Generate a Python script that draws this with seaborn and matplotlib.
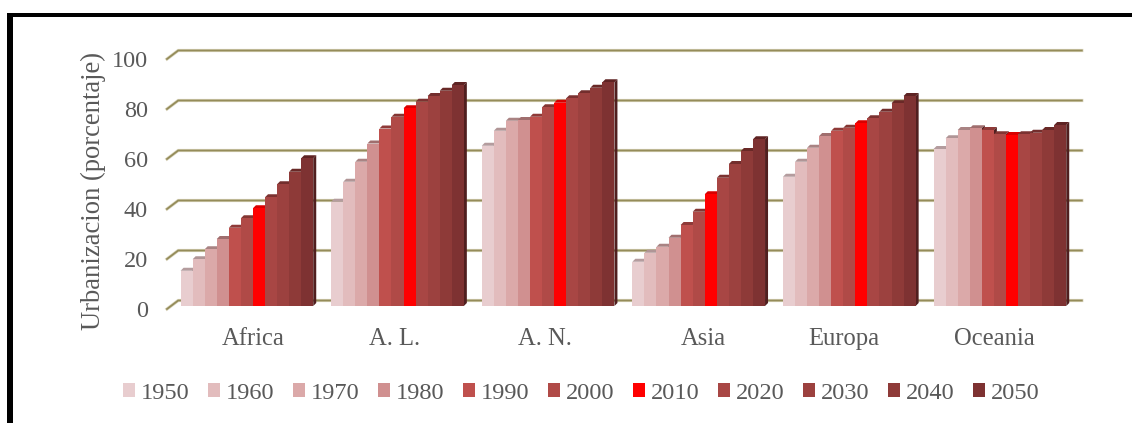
import matplotlib
matplotlib.use("Agg")
import matplotlib.pyplot as plt
from matplotlib.patches import Polygon, Rectangle
from matplotlib.transforms import ScaledTranslation
import pandas as pd
import seaborn as sns

regions = ["Africa", "A. L.", "A. N.", "Asia", "Europa", "Oceania"]
years = ["1950", "1960", "1970", "1980", "1990", "2000",
         "2010", "2020", "2030", "2040", "2050"]

africa = [14.1, 18.7, 22.7, 26.8, 31.3, 35.1, 39.1, 43.5, 48.7, 53.7, 59.1]
america_latina = [41.7, 49.7, 57.7, 65.0, 71.0, 75.7, 79.1, 81.7, 84.0, 86.1, 88.4]
america_norte = [64.1, 70.1, 74.1, 74.4, 75.7, 79.5, 81.3, 83.1, 85.1, 87.3, 89.5]
asia = [17.7, 21.3, 23.7, 27.3, 32.4, 37.7, 44.7, 51.3, 56.8, 62.0, 66.7]
europa = [51.7, 57.7, 63.3, 68.0, 70.1, 71.3, 73.1, 75.1, 77.7, 81.1, 84.0]
oceania = [62.8, 67.1, 70.4, 71.1, 70.4, 68.7, 68.4, 68.7, 69.3, 70.4, 72.4]
series = [africa, america_latina, america_norte, asia, europa, oceania]

y_ticks = [0, 20, 40, 60, 80, 100]

front_colors = ["#E8CDCF", "#E2BCBD", "#DBA9A9", "#D09090", "#BF504D", "#B04A47",
                "#FF0000", "#A84644", "#9C413F", "#8E3A38", "#7E3232"]
top_colors = ["#B49C9E", "#B09596", "#A98383", "#A06E6E", "#8F3A38", "#843633",
              "#D80000", "#7C3231", "#732E2D", "#692927", "#5E2323"]
side_color = "#501F1F"
wall_color = "#958C5A"
wall_halo = "#DAD6BE"
text_color = "#595959"

# Horizontal nudge of each category label, in pixels
label_shift_px = [6, -3, -3.5, 4.5, -5, -5.5]

W, H = 1132, 423
DPI = 100

plt.rcParams["font.family"] = ["Liberation Serif", "DejaVu Serif"]

frame = pd.DataFrame(
    [(r, y, v) for r, vals in zip(regions, series) for y, v in zip(years, vals)],
    columns=["region", "year", "urban"],
)

fig = plt.figure(figsize=(W / DPI, H / DPI), dpi=DPI, facecolor="white")
ax_left, ax_right, ax_top, ax_bottom = 171.6, 1075.2, 56, 306
ax = fig.add_axes([ax_left / W, 1 - ax_bottom / H,
                   (ax_right - ax_left) / W, (ax_bottom - ax_top) / H])

sns.barplot(data=frame, x="region", y="urban", hue="year", order=regions,
            hue_order=years, palette=front_colors, saturation=1, width=0.881,
            linewidth=0, errorbar=None, ax=ax)

ax.set_xlim(-0.5, 5.5)
ax.set_ylim(0, 100)
sns.despine(ax=ax, left=True, bottom=True)
ax.patch.set_alpha(0)

px_x = (ax_right - ax_left) / 6
px_y = (ax_bottom - ax_top) / 100

# Oblique depth of the chart: pixel offsets expressed in data units
bar_dx, bar_dy = 3 / px_x, 3 / px_y
back_dx, back_dy = 6.6 / px_x, 5.5 / px_y
front_dx, front_dy = -4.6 / px_x, -3 / px_y

# Back wall lines with the short diagonal stubs on the left side
for v in y_ticks:
    x0, x1 = -0.5 + back_dx, 5.5 + back_dx
    yy = v + back_dy
    xs = [-0.5 + front_dx, x0, x1]
    ys = [v + front_dy, yy, yy]
    ax.plot(xs, ys, color=wall_halo, lw=2.3, zorder=1, clip_on=False,
            solid_joinstyle="miter")
    ax.plot(xs, ys, color=wall_color, lw=1.3, zorder=1.1, clip_on=False,
            solid_joinstyle="miter")

# Extrude each bar with a top face and a right-hand side face
for i, container in enumerate(ax.containers):
    z = 3 + i * 0.1
    for bar in container:
        x0, w, h = bar.get_x(), bar.get_width(), bar.get_height()
        x1 = x0 + w
        bar.set_zorder(z + 0.05)
        bar.set_edgecolor("none")
        ax.add_patch(Polygon(
            [(x0, h), (x1, h), (x1 + bar_dx, h + bar_dy), (x0 + bar_dx, h + bar_dy)],
            closed=True, facecolor=top_colors[i], edgecolor="none",
            zorder=z, clip_on=False))
        ax.add_patch(Polygon(
            [(x1, 0), (x1, h), (x1 + bar_dx, h + bar_dy), (x1 + bar_dx, bar_dy)],
            closed=True, facecolor=side_color, edgecolor="none",
            zorder=z, clip_on=False))

ax.set_yticks(y_ticks)
ax.set_xlabel("")
ax.set_ylabel("Urbanizacion (porcentaje)", fontsize=19.2, color=text_color)
ax.yaxis.set_label_coords((106 - ax_left) / (ax_right - ax_left),
                          (ax_bottom - 191) / (ax_bottom - ax_top))
ax.tick_params(axis="both", length=0, labelcolor=text_color)
ax.tick_params(axis="y", labelsize=17.5, pad=17)
ax.tick_params(axis="x", labelsize=17.7, pad=16)

down = ScaledTranslation(0, -3 / DPI, fig.dpi_scale_trans)
for label in ax.get_yticklabels():
    label.set_transform(label.get_transform() + down)
for label, shift in zip(ax.get_xticklabels(), label_shift_px):
    label.set_transform(label.get_transform()
                        + ScaledTranslation(shift / DPI, 0, fig.dpi_scale_trans))

sns.move_legend(ax, "center left", bbox_to_anchor=(123 / W, 1 - 393 / H),
                bbox_transform=fig.transFigure, ncol=len(years), frameon=False,
                title=None, fontsize=17.6, labelcolor=text_color, borderpad=0,
                borderaxespad=0, handlelength=0.49, handleheight=0.49,
                handletextpad=0.25, columnspacing=0.746)

# Heavy black page rule along the top and left edges
fig.add_artist(Rectangle((7.3 / W, 0), 5.4 / W, 1 - 13.3 / H,
                         transform=fig.transFigure, facecolor="black", edgecolor="none"))
fig.add_artist(Rectangle((7.3 / W, 1 - 16.6 / H), 1 - 7.3 / W, 3.3 / H,
                         transform=fig.transFigure, facecolor="black", edgecolor="none"))

fig.savefig("out.png", dpi=DPI, facecolor="white")
